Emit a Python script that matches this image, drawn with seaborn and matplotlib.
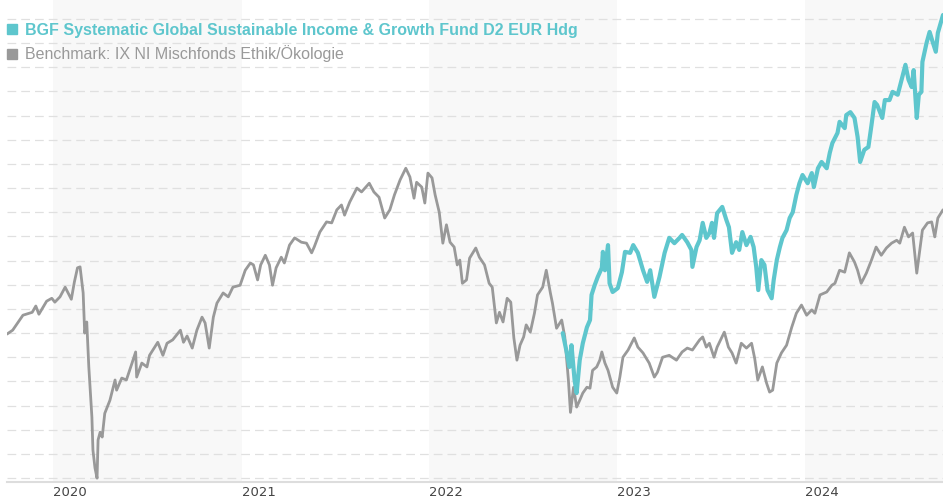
import pandas as pd
import matplotlib.pyplot as plt
import seaborn as sns
from matplotlib.lines import Line2D

# =============================================================================
# DATA (index levels, no y labels shown in the original)
# =============================================================================

fund_name = "BGF Systematic Global Sustainable Income & Growth Fund D2 EUR Hdg"
bench_name = "Benchmark: IX NI Mischfonds Ethik/Ökologie"

bench_dates = [
    "2019-10-03", "2019-10-14", "2019-11-03", "2019-11-21", "2019-11-28", "2019-12-04",
    "2019-12-19", "2019-12-29", "2020-01-04", "2020-01-14", "2020-01-24", "2020-02-05",
    "2020-02-11", "2020-02-17", "2020-02-22", "2020-02-28", "2020-03-02", "2020-03-06",
    "2020-03-10", "2020-03-16", "2020-03-18", "2020-03-22", "2020-03-26", "2020-03-28",
    "2020-04-01", "2020-04-05", "2020-04-10", "2020-04-20", "2020-04-30", "2020-05-03",
    "2020-05-13", "2020-05-22", "2020-06-02", "2020-06-09", "2020-06-11", "2020-06-21",
    "2020-07-01", "2020-07-06", "2020-07-16", "2020-07-22", "2020-08-01", "2020-08-09",
    "2020-08-20", "2020-09-04", "2020-09-10", "2020-09-17", "2020-09-27", "2020-10-06",
    "2020-10-16", "2020-10-22", "2020-10-30", "2020-11-07", "2020-11-14", "2020-11-26",
    "2020-12-06", "2020-12-15", "2020-12-29", "2021-01-08", "2021-01-18", "2021-01-24",
    "2021-02-01", "2021-02-07", "2021-02-16", "2021-02-24", "2021-03-02", "2021-03-09",
    "2021-03-19", "2021-03-25", "2021-04-04", "2021-04-14", "2021-04-27", "2021-05-07",
    "2021-05-17", "2021-05-22", "2021-06-02", "2021-06-15", "2021-06-25", "2021-07-05",
    "2021-07-14", "2021-07-20", "2021-07-30", "2021-08-13", "2021-08-22", "2021-09-06",
    "2021-09-15", "2021-09-25", "2021-10-06", "2021-10-16", "2021-10-25", "2021-11-05",
    "2021-11-16", "2021-11-24", "2021-12-02", "2021-12-07", "2021-12-17", "2021-12-23",
    "2021-12-29", "2022-01-06", "2022-01-12", "2022-01-20", "2022-01-27", "2022-02-03",
    "2022-02-10", "2022-02-18", "2022-02-24", "2022-03-01", "2022-03-06", "2022-03-14",
    "2022-03-20", "2022-04-01", "2022-04-08", "2022-04-18", "2022-04-27", "2022-05-03",
    "2022-05-11", "2022-05-17", "2022-05-24", "2022-06-01", "2022-06-08", "2022-06-14",
    "2022-06-20", "2022-06-26", "2022-07-03", "2022-07-08", "2022-07-16", "2022-07-24",
    "2022-07-30", "2022-08-09", "2022-08-16", "2022-08-24", "2022-08-28", "2022-09-05",
    "2022-09-15", "2022-09-21", "2022-09-28", "2022-10-02", "2022-10-08", "2022-10-14",
    "2022-10-20", "2022-10-26", "2022-11-03", "2022-11-09", "2022-11-14", "2022-11-22",
    "2022-11-28", "2022-12-02", "2022-12-08", "2022-12-14", "2022-12-23", "2022-12-31",
    "2023-01-06", "2023-01-12", "2023-01-22", "2023-02-03", "2023-02-10", "2023-02-20",
    "2023-03-04", "2023-03-14", "2023-03-20", "2023-03-30", "2023-04-12", "2023-04-26",
    "2023-05-07", "2023-05-17", "2023-05-27", "2023-06-10", "2023-06-16", "2023-06-23",
    "2023-06-29", "2023-07-08", "2023-07-14", "2023-07-28", "2023-08-05", "2023-08-12",
    "2023-08-20", "2023-08-30", "2023-09-09", "2023-09-19", "2023-09-25", "2023-10-01",
    "2023-10-10", "2023-10-18", "2023-10-24", "2023-10-30", "2023-11-07", "2023-11-16",
    "2023-11-26", "2023-12-06", "2023-12-15", "2023-12-25", "2024-01-04", "2024-01-14",
    "2024-01-20", "2024-01-30", "2024-02-12", "2024-02-22", "2024-02-28", "2024-03-08",
    "2024-03-18", "2024-03-27", "2024-04-06", "2024-04-12", "2024-04-19", "2024-04-29",
    "2024-05-09", "2024-05-18", "2024-05-28", "2024-06-07", "2024-06-17", "2024-06-27",
    "2024-07-03", "2024-07-12", "2024-07-20", "2024-07-28", "2024-08-05", "2024-08-09",
    "2024-08-16", "2024-08-26", "2024-09-03", "2024-09-09", "2024-09-15", "2024-09-25",
]
bench_values = [
    99.8, 100.6, 103.7, 104.3, 105.6, 103.9, 106.6, 107.2, 106.4, 107.5, 109.5, 107.0,
    110.6, 113.5, 113.7, 108.3, 100.0, 102.3, 93.0, 82.6, 75.8, 72.1, 70.0, 77.9,
    79.5, 78.5, 83.4, 86.1, 90.3, 88.2, 90.7, 90.3, 93.8, 96.1, 90.9, 93.8,
    93.0, 95.4, 97.1, 98.1, 95.4, 97.9, 98.6, 100.6, 98.1, 99.4, 96.9, 100.6,
    103.3, 102.1, 96.9, 103.3, 106.2, 108.3, 107.5, 109.5, 109.9, 113.0, 114.5, 114.1,
    111.0, 114.1, 116.1, 114.1, 109.9, 113.5, 115.7, 114.5, 118.2, 119.7, 118.8, 118.6,
    116.6, 117.8, 120.9, 123.0, 122.8, 125.5, 126.5, 124.4, 127.1, 130.0, 129.2, 131.0,
    129.2, 128.1, 123.8, 125.5, 128.6, 131.7, 134.1, 132.3, 127.9, 131.2, 130.2, 126.9,
    133.1, 132.1, 128.6, 125.0, 118.6, 122.4, 118.8, 117.8, 114.1, 115.1, 110.3, 111.0,
    115.5, 117.6, 115.7, 114.1, 110.3, 109.5, 102.1, 104.3, 102.3, 107.2, 106.4, 99.0,
    94.4, 97.5, 99.2, 101.7, 100.2, 104.1, 107.9, 109.5, 113.0, 108.3, 106.2, 101.0,
    102.7, 99.2, 90.3, 83.6, 88.8, 84.7, 86.1, 87.6, 88.8, 88.6, 92.3, 93.0,
    94.4, 96.1, 93.8, 92.3, 88.8, 87.6, 90.9, 95.0, 96.5, 99.0, 97.1, 95.9,
    93.8, 90.9, 91.9, 95.0, 95.4, 94.4, 96.1, 96.9, 96.5, 98.6, 99.2, 97.1,
    97.9, 95.0, 97.1, 100.2, 97.1, 95.9, 93.8, 97.9, 96.9, 97.9, 94.8, 90.3,
    93.0, 89.7, 87.8, 88.2, 93.8, 95.9, 97.5, 101.2, 104.1, 105.8, 103.7, 104.8,
    104.1, 107.9, 108.5, 109.9, 110.3, 113.0, 112.6, 116.6, 114.7, 113.0, 110.3, 112.4,
    115.1, 117.8, 116.1, 117.6, 118.6, 119.2, 118.6, 121.9, 119.9, 120.7, 112.4, 115.7,
    121.3, 122.8, 123.0, 119.9, 123.8, 125.5,
]

fund_dates = [
    "2022-09-17", "2022-09-25", "2022-09-30", "2022-10-04", "2022-10-10", "2022-10-14",
    "2022-10-20", "2022-10-26", "2022-11-03", "2022-11-09", "2022-11-12", "2022-11-18",
    "2022-11-24", "2022-12-02", "2022-12-04", "2022-12-08", "2022-12-14", "2022-12-17",
    "2022-12-23", "2023-01-02", "2023-01-10", "2023-01-16", "2023-01-26", "2023-02-01",
    "2023-02-10", "2023-02-20", "2023-02-28", "2023-03-06", "2023-03-14", "2023-03-24",
    "2023-04-03", "2023-04-12", "2023-04-22", "2023-05-02", "2023-05-07", "2023-05-17",
    "2023-05-25", "2023-05-27", "2023-06-04", "2023-06-10", "2023-06-16", "2023-06-23",
    "2023-06-29", "2023-07-04", "2023-07-08", "2023-07-14", "2023-07-24", "2023-08-01",
    "2023-08-06", "2023-08-12", "2023-08-20", "2023-08-26", "2023-09-01", "2023-09-09",
    "2023-09-17", "2023-09-23", "2023-09-28", "2023-10-02", "2023-10-08", "2023-10-14",
    "2023-10-20", "2023-10-28", "2023-11-01", "2023-11-07", "2023-11-13", "2023-11-18",
    "2023-11-26", "2023-12-02", "2023-12-08", "2023-12-15", "2023-12-21", "2023-12-27",
    "2024-01-06", "2024-01-14", "2024-01-18", "2024-01-26", "2024-02-02", "2024-02-12",
    "2024-02-18", "2024-02-23", "2024-03-04", "2024-03-08", "2024-03-18", "2024-03-21",
    "2024-03-29", "2024-04-06", "2024-04-12", "2024-04-17", "2024-04-25", "2024-05-03",
    "2024-05-09", "2024-05-15", "2024-05-20", "2024-05-30", "2024-06-04", "2024-06-13",
    "2024-06-19", "2024-06-29", "2024-07-08", "2024-07-14", "2024-07-20", "2024-07-26",
    "2024-07-30", "2024-08-05", "2024-08-09", "2024-08-14", "2024-08-16", "2024-08-24",
    "2024-08-30", "2024-09-05", "2024-09-11", "2024-09-15", "2024-09-25",
]
fund_values = [
    100.0, 95.9, 93.0, 97.5, 90.3, 87.6, 94.4, 97.9, 101.2, 102.7, 107.9, 109.9,
    111.6, 113.5, 116.8, 113.0, 118.2, 110.3, 108.5, 109.3, 112.6, 116.8, 116.6, 118.2,
    116.6, 113.0, 110.6, 113.0, 107.5, 111.6, 116.6, 119.7, 118.6, 119.7, 120.3, 118.8,
    117.2, 113.7, 117.8, 119.2, 122.8, 119.7, 120.7, 122.8, 119.7, 124.8, 126.1, 123.4,
    121.9, 116.6, 118.8, 117.2, 120.9, 118.2, 119.9, 117.8, 113.7, 108.9, 115.1, 114.1,
    108.9, 107.2, 111.0, 115.1, 117.8, 119.7, 121.3, 123.8, 125.0, 128.6, 131.0, 132.7,
    131.0, 133.1, 130.2, 134.1, 135.4, 134.1, 137.3, 139.3, 141.4, 143.7, 142.4, 145.1,
    145.7, 144.5, 140.6, 135.4, 137.9, 138.5, 143.0, 147.8, 147.2, 144.5, 148.2, 148.2,
    149.9, 149.3, 153.0, 155.5, 152.4, 150.9, 154.4, 144.5, 149.3, 149.9, 156.1, 160.0,
    162.3, 160.2, 158.2, 162.1, 165.8,
]

years = [2020, 2021, 2022, 2023, 2024]
shaded_years = [2020, 2022, 2024]

fund_color = "#5ec6cd"
bench_color = "#999999"

df_bench = pd.DataFrame({"date": pd.to_datetime(bench_dates), "value": bench_values})
df_fund = pd.DataFrame({"date": pd.to_datetime(fund_dates), "value": fund_values})

# =============================================================================
# PLOT
# =============================================================================

sns.set_style("white")
plt.rcParams["font.family"] = ["Liberation Sans", "DejaVu Sans"]

fig = plt.figure(figsize=(9.43, 5.0), dpi=100)
ax = fig.add_axes([7 / 943, 18 / 500, 936 / 943, 482 / 500])

# alternating year bands
for y in shaded_years:
    ax.axvspan(pd.Timestamp(f"{y}-01-01"), pd.Timestamp(f"{y + 1}-01-01"),
               color="#f8f8f8", lw=0, zorder=0)

# dashed horizontal grid
for g in range(70, 170, 5):
    ax.axhline(g, color="#e0e0e0", lw=0.9, ls=(0, (7, 4)), zorder=1)

sns.lineplot(data=df_bench, x="date", y="value", color=bench_color, lw=2.0, ax=ax, zorder=3)
sns.lineplot(data=df_fund, x="date", y="value", color=fund_color, lw=3.0, ax=ax, zorder=4)

ax.set_xlim(df_bench["date"].min(), df_bench["date"].max())
ax.set_ylim(69.2, 168.9)
ax.set_xlabel("")
ax.set_ylabel("")
ax.set_yticks([])

ax.set_xticks([pd.Timestamp(f"{y}-01-01") for y in years])
ax.set_xticklabels([str(y) for y in years], ha="left", fontsize=9.5,
                   color="#444444", family=["DejaVu Sans"])
ax.tick_params(axis="x", length=0, pad=3)

for side in ["top", "left", "right"]:
    ax.spines[side].set_visible(False)
ax.spines["bottom"].set_color("#dddddd")
ax.spines["bottom"].set_linewidth(1.5)

# legend in the top-left corner
handles = [
    Line2D([], [], marker="s", ls="none", color=fund_color, markersize=7),
    Line2D([], [], marker="s", ls="none", color=bench_color, markersize=7),
]
leg = ax.legend(handles, [fund_name, bench_name], loc="upper left",
                bbox_to_anchor=(7 / 943, 1 - 23 / 500), bbox_transform=fig.transFigure,
                frameon=False, fontsize=11.5, handlelength=0.6, handletextpad=0.5,
                labelspacing=0.45, borderpad=0, borderaxespad=0,
                labelcolor=[fund_color, "#999999"])
leg.get_texts()[0].set_fontweight("bold")

fig.savefig("out.png", dpi=100)
